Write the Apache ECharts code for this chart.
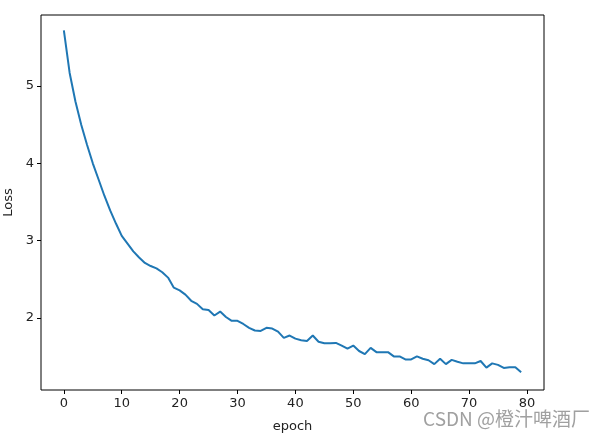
<!DOCTYPE html>
<html>
<head>
<meta charset="utf-8">
<script src="https://cdn.jsdelivr.net/npm/echarts@6/dist/echarts.min.js"></script>
<style>
  html, body { margin: 0; padding: 0; background: #fff; }
  #chart { width: 604px; height: 443px; }
</style>
</head>
<body>
<div id="chart"></div>
<script>
// loss per epoch
const epochs = Array.from({ length: 80 }, (_, i) => i);
const loss = [
  5.72, 5.17, 4.80, 4.50, 4.24, 4.00, 3.79, 3.58, 3.39, 3.22,
  3.06, 2.96, 2.86, 2.78, 2.71, 2.67, 2.64, 2.59, 2.52, 2.39,
  2.355, 2.30, 2.22, 2.18, 2.11, 2.10, 2.03, 2.08, 2.01, 1.96,
  1.96, 1.92, 1.87, 1.835, 1.83, 1.87, 1.86, 1.82, 1.74, 1.77,
  1.73, 1.71, 1.70, 1.77, 1.69, 1.67, 1.67, 1.675, 1.64, 1.60,
  1.64, 1.57, 1.53, 1.61, 1.555, 1.555, 1.555, 1.50, 1.50, 1.46,
  1.46, 1.50, 1.47, 1.45, 1.40, 1.47, 1.40, 1.455, 1.43, 1.41,
  1.41, 1.41, 1.44, 1.355, 1.41, 1.39, 1.35, 1.36, 1.36, 1.295
];
const xTicks = [0, 10, 20, 30, 40, 50, 60, 70, 80];
const yTicks = [2, 3, 4, 5];

const font = "DejaVu Sans";
const chart = echarts.init(document.getElementById("chart"));

const option = {
  animation: false,
  backgroundColor: "#fff",
  grid: {
    left: 41,
    right: 60,
    top: 15,
    bottom: 53,
    outerBoundsMode: "none",
    show: true,
    borderColor: "#000",
    borderWidth: 1,
    backgroundColor: "#fff",
  },
  xAxis: {
    type: "value",
    min: -3.95,
    max: 82.95,
    name: "epoch",
    nameLocation: "middle",
    nameGap: 30,
    nameTextStyle: { color: "#222", fontFamily: font, fontSize: 13 },
    axisLine: { show: false, onZero: false },
    splitLine: { show: false },
    axisTick: {
      show: true,
      inside: false,
      length: 4,
      lineStyle: { color: "#000" },
      customValues: xTicks,
    },
    axisLabel: {
      color: "#222",
      fontFamily: font,
      fontSize: 13,
      margin: 7,
      customValues: xTicks,
    },
  },
  yAxis: {
    type: "value",
    min: 1.065,
    max: 5.92,
    name: "Loss",
    nameLocation: "middle",
    nameGap: 25,
    nameRotate: 90,
    nameTextStyle: { color: "#222", fontFamily: font, fontSize: 13 },
    axisLine: { show: false, onZero: false },
    splitLine: { show: false },
    axisTick: {
      show: true,
      inside: false,
      length: 4,
      lineStyle: { color: "#000" },
      customValues: yTicks,
    },
    axisLabel: {
      color: "#222",
      fontFamily: font,
      fontSize: 13,
      margin: 7,
      customValues: yTicks,
    },
  },
  series: [
    {
      type: "line",
      data: epochs.map((e, i) => [e, loss[i]]),
      showSymbol: false,
      lineStyle: { color: "#1f77b4", width: 2 },
    },
  ],
  graphic: [
    {
      type: "text",
      right: 14,
      top: 409,
      style: {
        text: "CSDN @橙汁啤酒厂",
        fill: "#a0a0a0",
        font: '19px "Noto Sans CJK SC", "Noto Sans", sans-serif',
      },
    },
  ],
};

chart.setOption(option);
</script>
</body>
</html>
